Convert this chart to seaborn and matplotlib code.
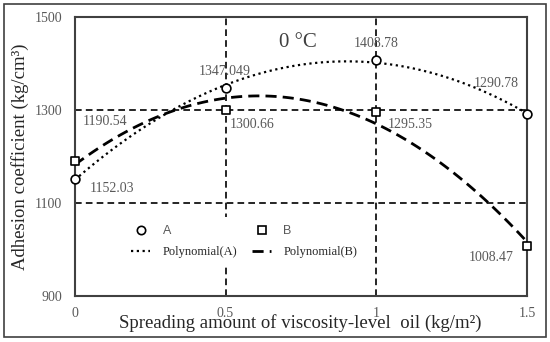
import numpy as np
import pandas as pd
import seaborn as sns
import matplotlib.pyplot as plt
from matplotlib.lines import Line2D
from matplotlib.patches import Rectangle

# data
x_vals = [0, 0.5, 1, 1.5]
a_vals = [1152.03, 1347.049, 1408.78, 1290.78]
b_vals = [1190.54, 1300.66, 1295.35, 1008.47]
a_labels = ["1152.03", "1347.049", "1408.78", "1290.78"]
b_labels = ["1190.54", "1300.66", "1295.35", "1008.47"]
x_ticks = [0, 0.5, 1, 1.5]
x_tick_labels = ["0", "0.5", "1", "1.5"]
y_ticks = [900, 1100, 1300, 1500]

# label offsets in pixels
a_off = [(37, -10), (-1, 17), (0, 16), (-31, 31)]
b_off = [(30, 39), (27, -15), (34, -12), (-36, -12)]

df = pd.DataFrame({"x": x_vals, "A": a_vals, "B": b_vals})

sns.set_style("white")
plt.rcParams['font.family'] = ['Liberation Serif', 'DejaVu Serif']

fig = plt.figure(figsize=(5.5, 3.42), dpi=100)
ax = fig.add_axes([0.136, 0.1345, 0.822, 0.8155])

txt_gray = "#595959"

# polynomial trendlines
sns.regplot(data=df, x="x", y="A", order=2, ci=None, scatter=False, ax=ax,
            line_kws=dict(color="black", lw=1.6, ls=(0, (1, 1.6))))
sns.regplot(data=df, x="x", y="B", order=2, ci=None, scatter=False, ax=ax,
            line_kws=dict(color="black", lw=2.0, ls=(0, (4, 2.2))))

sns.scatterplot(data=df, x="x", y="A", ax=ax, marker="o", s=40,
                facecolor="white", edgecolor="black", linewidth=1.2,
                clip_on=False, zorder=5)
sns.scatterplot(data=df, x="x", y="B", ax=ax, marker="s", s=40,
                facecolor="white", edgecolor="black", linewidth=1.2,
                clip_on=False, zorder=5)

for xv, yv, lab, off in zip(x_vals, a_vals, a_labels, a_off):
    ax.annotate(lab, (xv, yv), xytext=off, textcoords="offset pixels",
                ha="center", va="center", fontsize=10, color=txt_gray)
for xv, yv, lab, off in zip(x_vals, b_vals, b_labels, b_off):
    ax.annotate(lab, (xv, yv), xytext=off, textcoords="offset pixels",
                ha="center", va="center", fontsize=10, color=txt_gray)

ax.text(0.493, 0.91, "0 °C", transform=ax.transAxes, ha="center",
        va="center", fontsize=15, color="#404040")

ax.set_xlim(0, 1.5)
ax.set_ylim(900, 1500)
ax.set_xticks(x_ticks)
ax.set_xticklabels(x_tick_labels)
ax.set_yticks(y_ticks)
ax.tick_params(length=0, labelsize=10, labelcolor=txt_gray)
ax.tick_params(axis="y", pad=9)
ax.tick_params(axis="x", pad=8)

ax.grid(True, color="black", ls=(0, (4, 2.5)), lw=1.2)
for s in ax.spines.values():
    s.set_visible(True)
    s.set_color("#404040")
    s.set_linewidth(1.5)

ax.set_xlabel("Spreading amount of viscosity-level  oil (kg/m²)",
              fontsize=13.5, va="center")
ax.xaxis.set_label_coords(0.498, -0.097)
ax.set_ylabel("Adhesion coefficient (kg/cm³)", fontsize=13.5, va="center")
ax.yaxis.set_label_coords(-0.122, 0.5)

handles = [
    Line2D([], [], marker="o", ls="none", mfc="white", mec="black", mew=1.2, ms=6),
    Line2D([], [], color="black", lw=1.6, ls=(0, (1, 1.6))),
    Line2D([], [], marker="s", ls="none", mfc="white", mec="black", mew=1.2, ms=6),
    Line2D([], [], color="black", lw=2.0, ls=(0, (4, 2.2))),
]
labels = ["A", "Polynomial(A)", "B", "Polynomial(B)"]
leg = ax.legend(handles, labels, ncol=2, loc="center",
                bbox_to_anchor=(0.375, 0.195), frameon=True, framealpha=1,
                facecolor="white", edgecolor="none", fontsize=9,
                handlelength=1.5, handletextpad=1.0, columnspacing=1.2,
                borderpad=0.6, labelspacing=0.75)
for t in leg.get_texts():
    if t.get_text() in ("A", "B"):
        t.set_family("Liberation Sans")
        t.set_color(txt_gray)
leg.set_zorder(6)

fig.patches.append(Rectangle((0.008, 0.015), 0.984, 0.972,
                             transform=fig.transFigure, fill=False,
                             edgecolor="#404040", lw=1.2))

fig.savefig("out.png", dpi=100)
